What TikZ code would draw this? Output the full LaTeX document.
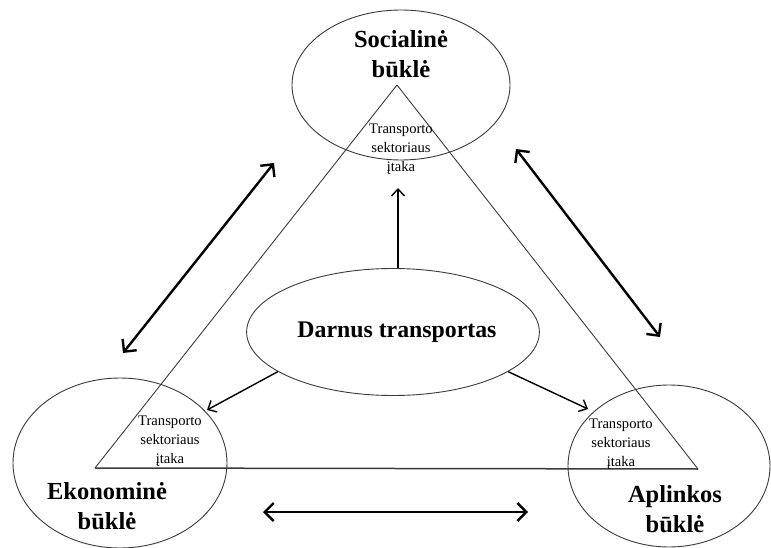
\documentclass[tikz,border=0pt]{standalone}
\usepackage{fontspec}
\setmainfont{Liberation Serif}
\usepackage{xcolor}
\definecolor{cMain}{HTML}{000000}
\definecolor{cGray}{HTML}{3A3A3A}
\usepackage{tikz}
\usetikzlibrary{positioning,arrows.meta,shapes.geometric,calc}
\tikzset{
  node-sphere/.style={draw=cGray,ellipse,inner sep=0pt,line width=0.9pt},
  node-title/.style={font=\bfseries\fontsize{24.5}{30}\selectfont,
    align=center,text=cMain},
  node-impact/.style={font=\fontsize{14.6}{19}\selectfont,align=center,
    inner sep=0pt,text=cMain},
  edge-tri/.style={draw=cGray,line width=0.9pt},
  arrow/.style={-{Straight Barb[length=7pt,width=13pt]},line width=1.4pt,
    draw=cMain},
  arrow-both/.style={{Straight Barb[length=9pt,width=18pt]}-{Straight Barb[length=9pt,width=18pt]},
    line width=2.4pt,draw=cMain},
}

\begin{document}
\begin{tikzpicture}[x=1pt,y=-1pt]
  \useasboundingbox (0,0) rectangle (771,548);
  % trys sritys ir centras
  \node[node-sphere,minimum width=218pt,minimum height=150pt] (soc) at (401,85) {};
  \node[node-sphere,minimum width=214pt,minimum height=170pt] (eko) at (120,463) {};
  \node[node-sphere,minimum width=202pt,minimum height=162pt] (apl) at (669,466) {};
  \node[node-sphere,minimum width=292pt,minimum height=127pt] (dar) at (393,332)
    {\bfseries\fontsize{23.8}{29}\selectfont\hspace*{8pt}Darnus transportas};
  % trikampis
  \coordinate (tri-top) at (397,85);
  \coordinate (tri-left) at (95,468);
  \coordinate (tri-right) at (698,469);
  \draw[edge-tri] (tri-top) -- (tri-left);
  \draw[edge-tri] (tri-top) -- (tri-right);
  \draw[edge-tri,line width=1.5pt] (tri-left) -- (tri-right);
  % pavadinimai
  \node[node-title] (soc-t) at (401,54) {Socialinė\\būklė};
  \node[node-title] (eko-t) at (107,506) {Ekonominė\\būklė};
  \node[node-title] (apl-t) at (675,509) {Aplinkos\\būklė};
  \node[node-impact] (soc-i) at (401,149) {Transporto\\sektoriaus\\įtaka};
  \node[node-impact] (eko-i) at (170,441) {Transporto\\sektoriaus\\įtaka};
  \node[node-impact] (apl-i) at (621,444) {Transporto\\sektoriaus\\įtaka};
  % poveikio rodyklės
  \coordinate (up-tip) at (398,188);
  \coordinate (left-tip) at (207,410);
  \coordinate (right-tip) at (588,409);
  \draw[arrow] (dar.north -| up-tip) -- (up-tip);
  \draw[arrow] (dar.199) -- (left-tip);
  \draw[arrow] (dar.341) -- (right-tip);
  % sąveika tarp sričių
  \coordinate (se-a) at (274,163);
  \coordinate (se-b) at (123,353);
  \coordinate (sa-a) at (516,149);
  \coordinate (sa-b) at (660,337);
  \coordinate (ea-a) at (263,512);
  \coordinate (ea-b) at (528,512);
  \draw[arrow-both] (se-a) -- (se-b);
  \draw[arrow-both] (sa-a) -- (sa-b);
  \draw[arrow-both] (ea-a) -- (ea-b);
\end{tikzpicture}
\end{document}
